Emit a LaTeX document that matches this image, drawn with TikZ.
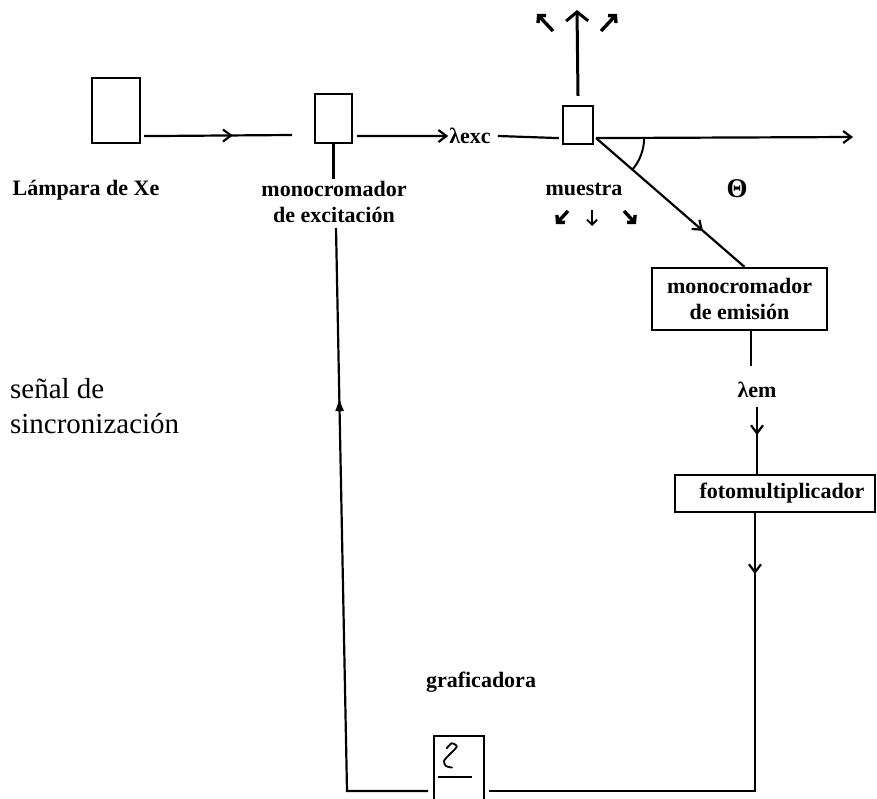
\documentclass[tikz,border=0pt]{standalone}
\usepackage{fontspec}
\setmainfont{Liberation Serif}
\usetikzlibrary{arrows.meta,decorations.markings}
\begin{document}
\begin{tikzpicture}[x=1pt,y=1pt,line width=2.2pt,
  box/.style={draw,line width=2.2pt,inner sep=0pt},
  lbl/.style={font=\bfseries\fontsize{22}{26}\selectfont,align=center,inner sep=0pt},
  barb/.style={-{Straight Barb[length=8pt,width=12pt]}},
  midarrow/.style={postaction=decorate,decoration={markings,mark=at position #1 with {\arrow{Straight Barb[length=8pt,width=12pt]}}}},
  midtri/.style={postaction=decorate,decoration={markings,mark=at position #1 with {\arrow{Latex[length=14pt,width=9pt]}}}},
  dirarrow/.style={line width=3.4pt,-{Straight Barb[length=5pt,width=11pt]}},
  thinarrow/.style={line width=1.8pt,-{Straight Barb[length=5pt,width=10pt]}},
]
\useasboundingbox (0,0) rectangle (877,-799);

% boxes
\node[box,minimum width=48,minimum height=65] (lamp) at (116,-110.5) {};
\node[box,minimum width=37,minimum height=49] (mexc) at (333.5,-118.5) {};
\node[box,minimum width=30,minimum height=38] (sample) at (578,-125) {};
\node[box,lbl,minimum width=175,minimum height=62] (memi) at (739.5,-299) {monocromador\\de emisión};
\node[box,lbl,minimum width=200,minimum height=37] (foto) at (775,-493.5) {\hspace*{14pt}fotomultiplicador};
\node[box,minimum width=50,minimum height=72,anchor=north west] (graf) at (433,-735) {};

% labels
\node[lbl] (lexc) at (470,-136) {λexc};
\node[lbl] (lem) at (757,-390) {λem};
\node[lbl] (lamplbl) at (86,-190) {Lámpara de Xe};
\node[lbl] (mexclbl) at (334,-202) {monocromador\\de excitación};
\node[lbl] (muestra) at (584,-189) {muestra};
\node[lbl,font=\bfseries\fontsize{27}{27}\selectfont] (theta) at (737,-189) {Θ};
\node[lbl] (graflbl) at (481,-682) {graficadora};
\node[align=left,anchor=west,inner sep=0pt,font=\fontsize{29}{35}\selectfont] (sync) at (9,-406) {señal de\\sincronización};

% coordinates
\coordinate (g1) at (292,-135);
\coordinate (vx) at ([shift={(2,7)}]sample.south east);
\coordinate (rend) at (853,-137);
\coordinate (up) at (577,-10);
\coordinate (br) at (755,-791);
\coordinate (bl) at (347,-791);
\coordinate (tl) at (336,-228);
\coordinate (nwa) at (553,-31); \coordinate (nwb) at (537,-14);
\coordinate (nea) at (601,-31); \coordinate (neb) at (617,-14);
\coordinate (swa) at (568,-211); \coordinate (swb) at (556,-224);
\coordinate (sa) at (592,-210); \coordinate (sb) at (592,-226);
\coordinate (sea) at (624,-211); \coordinate (seb) at (636,-224);

% scattering direction arrows
\draw[dirarrow] (nwa) -- (nwb);
\draw[dirarrow] (nea) -- (neb);
\draw[dirarrow] (swa) -- (swb);
\draw[thinarrow] (sa) -- (sb);
\draw[dirarrow] (sea) -- (seb);

% connectors
\draw[midarrow=0.6] ([shift={(3,8)}]lamp.south east) -- (g1);
\draw (mexc.south) -- ++(0,-35);
\draw[barb] ([shift={(4,8)}]mexc.south east) -- (lexc.west);
\draw ([xshift=6]lexc.east) -- ([shift={(-3,7)}]sample.south west);
\draw[barb] (vx) -- (rend);
\draw[line width=3pt,-{Straight Barb[length=9pt,width=22pt]}] ([yshift=9]sample.north) -- (up);
\draw[midarrow=0.72] (vx) -- ([xshift=5]memi.north);
\draw[line width=2pt] (vx) ++(48,0) arc[start angle=0,end angle=-41,radius=48];
\draw ([xshift=11.5]memi.south) -- ++(0,-35);
\draw[midarrow=0.42] ([yshift=-8]lem.south) -- (lem.south |- foto.north);
\draw[midarrow=61pt,line join=miter] (foto.south -| br) -- (br) -- ([xshift=4]graf.east |- br);
\draw[midtri=475pt,line join=miter] ([xshift=-5]graf.west |- bl) -- (bl) -- (tl);

% plotter symbol
\draw[line width=1.8pt,line cap=round] plot[smooth] coordinates {(446.7,-748.3) (451.7,-743.3) (456.7,-746.7) (449,-755) (444,-761) (446,-766) (452,-767.5)};
\draw[line width=2.4pt] (438,-777) -- (472,-777);
\end{tikzpicture}
\end{document}
